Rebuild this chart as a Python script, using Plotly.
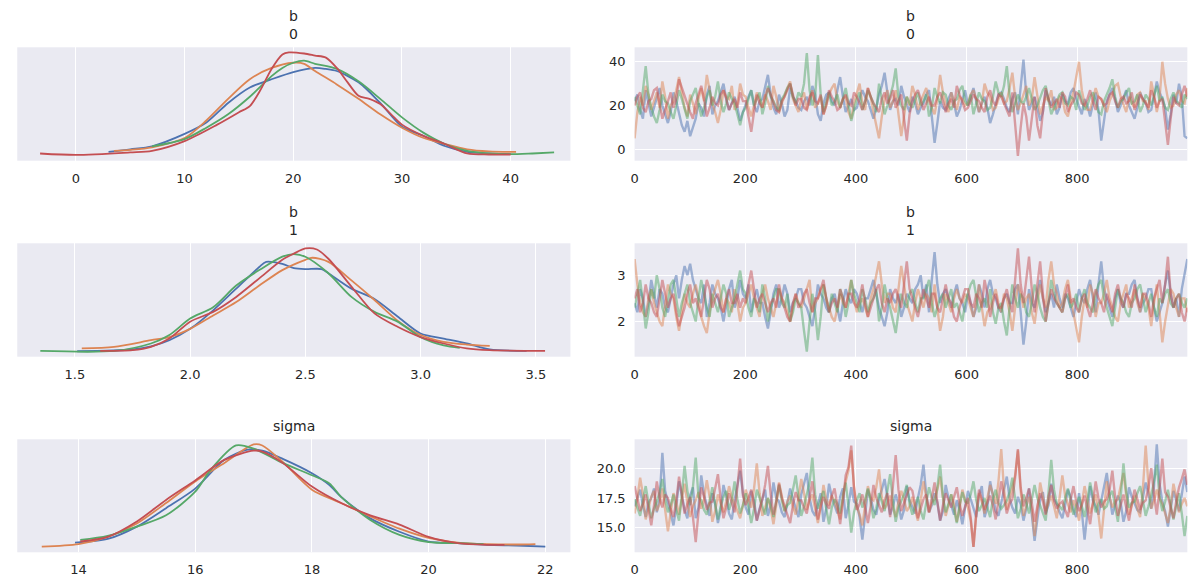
import numpy as np
import plotly.graph_objects as go
from plotly.subplots import make_subplots

# chain colours (seaborn deep)
colors = ["#4C72B0", "#DD8452", "#55A868", "#C44E52"]

# ---- KDE curves (relative density, peak ~ 1) ----
b0_kde_x_blue = [3, 5, 7, 10, 12, 14, 16, 18, 20, 22, 23, 24, 26, 28, 30, 32, 34, 36, 38, 40]
b0_kde_y_blue = [0.035, 0.06, 0.09, 0.21, 0.32, 0.51, 0.66, 0.74, 0.81, 0.85, 0.84, 0.82, 0.71, 0.51, 0.28, 0.19, 0.09, 0.035, 0.02, 0.013]
b0_kde_x_orange = [3.5, 5, 7, 10, 12, 14, 16, 18, 20, 21, 22, 24, 26, 28, 30, 32, 34, 36, 38, 40.5]
b0_kde_y_orange = [0.045, 0.055, 0.08, 0.17, 0.34, 0.55, 0.74, 0.85, 0.90, 0.89, 0.82, 0.69, 0.55, 0.40, 0.27, 0.17, 0.11, 0.06, 0.04, 0.035]
b0_kde_x_green = [7, 10, 12, 14, 16, 18, 19, 20, 21, 22, 24, 26, 28, 30, 32, 34, 36, 38, 40, 42, 44]
b0_kde_y_green = [0.09, 0.16, 0.27, 0.40, 0.57, 0.77, 0.85, 0.90, 0.92, 0.89, 0.84, 0.72, 0.55, 0.37, 0.22, 0.11, 0.045, 0.02, 0.013, 0.02, 0.03]
b0_kde_x_red = [-3.3, 0, 5, 7, 10, 13, 15, 16, 17, 18, 19, 19.6, 21, 22, 23, 24, 25, 26, 27, 28, 29, 30, 32, 34, 36, 38, 40]
b0_kde_y_red = [0.02, 0.006, 0.03, 0.045, 0.14, 0.30, 0.42, 0.48, 0.64, 0.84, 0.98, 1.0, 0.99, 0.97, 0.95, 0.85, 0.71, 0.58, 0.55, 0.50, 0.40, 0.30, 0.19, 0.11, 0.02, 0.01, 0.01]

b1_kde_x_blue = [1.51, 1.75, 1.83, 1.91, 2.0, 2.1, 2.2, 2.3, 2.33, 2.4, 2.45, 2.5, 2.57, 2.6, 2.7, 2.8, 2.9, 3.0, 3.1, 3.2, 3.3, 3.46]
b1_kde_y_blue = [0.003, 0.02, 0.05, 0.11, 0.22, 0.40, 0.61, 0.82, 0.87, 0.85, 0.81, 0.80, 0.80, 0.76, 0.61, 0.51, 0.34, 0.175, 0.126, 0.078, 0.02, 0.006]
b1_kde_x_orange = [1.53, 1.67, 1.83, 1.91, 2.0, 2.1, 2.2, 2.3, 2.4, 2.5, 2.53, 2.6, 2.7, 2.8, 2.9, 3.0, 3.1, 3.2, 3.3]
b1_kde_y_orange = [0.03, 0.045, 0.11, 0.14, 0.22, 0.35, 0.48, 0.64, 0.79, 0.89, 0.91, 0.87, 0.69, 0.50, 0.30, 0.16, 0.094, 0.068, 0.055]
b1_kde_x_green = [1.35, 1.67, 1.83, 1.91, 2.0, 2.1, 2.2, 2.3, 2.4, 2.45, 2.5, 2.6, 2.7, 2.8, 2.9, 3.0, 3.1, 3.17]
b1_kde_y_green = [0.006, 0.006, 0.078, 0.16, 0.32, 0.43, 0.64, 0.79, 0.92, 0.945, 0.92, 0.76, 0.53, 0.385, 0.29, 0.14, 0.06, 0.036]
b1_kde_x_red = [1.61, 1.75, 1.83, 1.91, 2.0, 2.1, 2.2, 2.3, 2.4, 2.45, 2.5, 2.55, 2.6, 2.7, 2.8, 2.9, 3.0, 3.1, 3.2, 3.3, 3.54]
b1_kde_y_red = [0.006, 0.013, 0.045, 0.126, 0.29, 0.385, 0.53, 0.71, 0.89, 0.95, 1.0, 0.99, 0.90, 0.63, 0.37, 0.24, 0.14, 0.078, 0.03, 0.013, 0.006]

sigma_kde_x_blue = [13.94, 14.5, 15, 15.5, 16, 16.5, 16.9, 17.15, 17.5, 18, 18.3, 18.5, 19, 19.5, 20, 20.5, 21, 21.5, 22]
sigma_kde_y_blue = [0.045, 0.08, 0.20, 0.38, 0.57, 0.85, 0.95, 0.94, 0.86, 0.72, 0.605, 0.49, 0.28, 0.15, 0.055, 0.039, 0.023, 0.016, 0.006]
sigma_kde_x_orange = [13.37, 14, 14.5, 15, 15.5, 16, 16.5, 17, 17.15, 17.5, 18, 18.5, 19, 19.5, 20, 20.5, 21, 21.5, 21.83]
sigma_kde_y_orange = [0.006, 0.03, 0.10, 0.23, 0.43, 0.64, 0.82, 1.0, 0.99, 0.83, 0.56, 0.43, 0.30, 0.18, 0.09, 0.045, 0.03, 0.026, 0.03]
sigma_kde_x_green = [14.03, 14.5, 15, 15.5, 16, 16.26, 16.7, 17, 17.5, 18, 18.3, 18.5, 19, 19.5, 20, 20.5, 20.94]
sigma_kde_y_green = [0.07, 0.11, 0.20, 0.31, 0.54, 0.75, 0.99, 0.96, 0.82, 0.70, 0.62, 0.49, 0.265, 0.12, 0.05, 0.039, 0.03]
sigma_kde_x_red = [14.03, 14.5, 15, 15.5, 16, 16.5, 17, 17.15, 17.5, 18, 18.5, 19, 19.5, 20, 20.5, 21, 21.3]
sigma_kde_y_red = [0.055, 0.10, 0.25, 0.46, 0.65, 0.85, 0.94, 0.93, 0.82, 0.59, 0.43, 0.31, 0.22, 0.10, 0.039, 0.023, 0.023]

# ---- trace values (every 5th draw) ----
b0_trace_blue = [22, 25, 18, 14, 27, 21, 15, 19, 24, 28, 20, 16, 12, 17, 26, 22, 17, 11, 8, 13,
                 6, 10, 14, 21, 19, 15, 25, 29, 16, 20, 22, 26, 30, 23, 18, 21, 24, 19, 13, 17,
                 21, 24, 27, 20, 17, 22, 23, 28, 34, 25, 19, 16, 25, 21, 15, 18, 28, 24, 22, 19,
                 18, 22, 24, 20, 29, 25, 16, 13, 21, 25, 26, 22, 20, 27, 33, 24, 17, 20, 23, 18,
                 19, 23, 27, 24, 22, 18, 14, 19, 25, 29, 35, 26, 18, 22, 23, 20, 29, 24, 20, 17,
                 24, 21, 16, 19, 21, 25, 27, 14, 3, 12, 22, 19, 18, 23, 26, 21, 15, 18, 23, 27,
                 20, 24, 28, 22, 17, 21, 24, 19, 12, 16, 21, 25, 26, 23, 19, 17, 23, 26, 16, 28,
                 41, 25, 18, 21, 24, 19, 13, 17, 27, 23, 20, 24, 16, 19, 25, 22, 21, 26, 28, 23,
                 19, 16, 23, 20, 15, 21, 26, 18, 4, 13, 22, 25, 28, 23, 17, 20, 24, 27, 20, 17,
                 14, 19, 26, 23, 21, 17, 18, 24, 31, 26, 23, 19, 9, 16, 25, 21, 30, 24, 6, 5]
b0_trace_orange = [5, 17, 24, 20, 29, 25, 18, 22, 26, 19, 31, 24, 14, 20, 22, 27, 33, 26, 19, 15,
                   25, 21, 16, 23, 28, 22, 34, 27, 21, 17, 12, 18, 27, 24, 23, 29, 18, 21, 30, 25,
                   24, 19, 15, 20, 26, 23, 19, 25, 22, 18, 29, 24, 17, 21, 25, 28, 31, 23, 20, 17,
                   23, 26, 18, 22, 27, 19, 21, 24, 16, 20, 25, 28, 30, 22, 19, 23, 24, 17, 14, 21,
                   26, 30, 21, 18, 28, 24, 17, 11, 5, 15, 23, 27, 19, 22, 27, 16, 6, 15, 24, 20,
                   29, 25, 18, 22, 25, 28, 22, 19, 16, 23, 34, 26, 20, 17, 26, 22, 18, 24, 23, 20,
                   21, 25, 27, 23, 17, 21, 30, 26, 24, 18, 19, 23, 26, 21, 22, 28, 35, 24, 18, 21,
                   25, 29, 20, 23, 33, 25, 16, 20, 24, 22, 27, 18, 19, 24, 23, 17, 15, 21, 26, 33,
                   40, 27, 21, 18, 18, 23, 28, 24, 23, 20, 17, 22, 25, 29, 30, 24, 20, 17, 24, 21,
                   19, 25, 26, 22, 22, 18, 31, 25, 17, 23, 40, 30, 23, 19, 20, 25, 27, 22, 21, 28]
b0_trace_green = [24, 20, 16, 27, 38, 25, 19, 15, 12, 18, 25, 22, 21, 17, 14, 20, 27, 23, 18, 14,
                  22, 25, 28, 21, 15, 19, 24, 27, 20, 24, 31, 22, 17, 21, 26, 23, 21, 16, 11, 17,
                  19, 23, 27, 20, 23, 26, 16, 21, 29, 24, 22, 19, 18, 23, 25, 28, 30, 24, 21, 26,
                  24, 30, 44, 27, 20, 24, 43, 25, 17, 22, 26, 20, 22, 25, 19, 23, 28, 21, 13, 18,
                  23, 26, 18, 22, 27, 24, 21, 17, 30, 23, 16, 20, 25, 29, 37, 24, 20, 18, 24, 21,
                  19, 23, 26, 20, 22, 25, 15, 19, 28, 24, 21, 26, 25, 20, 18, 22, 23, 27, 29, 22,
                  20, 25, 16, 21, 26, 23, 22, 18, 19, 24, 31, 26, 24, 29, 38, 25, 17, 21, 25, 22,
                  21, 24, 28, 23, 18, 20, 24, 27, 29, 22, 16, 19, 22, 25, 26, 21, 20, 24, 23, 18,
                  27, 22, 18, 20, 24, 26, 21, 17, 16, 22, 25, 28, 32, 24, 19, 22, 23, 26, 28, 21,
                  22, 25, 17, 20, 25, 23, 20, 24, 29, 22, 24, 19, 18, 23, 26, 22, 21, 19, 25, 23]
b0_trace_red = [20, 24, 26, 19, 17, 22, 23, 27, 28, 20, 14, 18, 22, 26, 19, 23, 32, 28, 25, 20,
                17, 14, 21, 25, 29, 23, 15, 19, 24, 21, 20, 25, 27, 23, 18, 21, 23, 19, 26, 22,
                22, 15, 8, 17, 25, 21, 19, 24, 28, 25, 21, 18, 17, 22, 24, 27, 30, 25, 20, 23,
                23, 19, 18, 24, 26, 22, 21, 25, 16, 20, 27, 24, 22, 18, 19, 23, 25, 21, 20, 26,
                24, 21, 18, 22, 28, 24, 21, 19, 17, 23, 26, 21, 23, 27, 19, 22, 25, 14, 4, 16,
                22, 25, 27, 23, 18, 21, 24, 20, 20, 24, 26, 22, 17, 21, 23, 19, 29, 25, 21, 18,
                19, 22, 25, 23, 22, 19, 17, 24, 27, 22, 20, 25, 24, 21, 18, 15, 26, 12, -3, 10,
                21, 15, 4, 14, 24, 11, 5, 17, 28, 23, 19, 21, 23, 19, 26, 24, 17, 20, 22, 26,
                25, 21, 20, 23, 27, 22, 18, 24, 23, 20, 21, 25, 26, 22, 19, 23, 24, 21, 22, 26,
                18, 21, 25, 23, 21, 19, 27, 24, 19, 22, 23, 12, 2, 14, 24, 21, 20, 25, 29, 24]

b1_trace_blue = [2.4, 2.2, 2.7, 2.5, 2.1, 2.4, 2.9, 2.6, 2.3, 2.7, 2.6, 2.3, 2.2, 2.5, 2.8, 3.0, 2.5, 2.9, 3.2, 3.0,
                 3.25, 2.9, 2.7, 2.5, 2.4, 2.8, 2.1, 2.4, 2.8, 2.6, 2.5, 2.3, 2.0, 2.4, 2.7, 2.9, 2.3, 2.5, 2.9, 2.6,
                 2.5, 2.8, 2.2, 2.5, 2.7, 2.4, 2.4, 2.1, 1.85, 2.2, 2.6, 2.8, 2.3, 2.5, 2.8, 2.6, 2.2, 2.4, 2.5, 2.7,
                 2.7, 2.4, 2.3, 2.1, 1.9, 2.3, 2.8, 2.6, 2.5, 2.3, 2.2, 2.5, 2.6, 2.3, 2.0, 2.4, 2.7, 2.5, 2.4, 2.7,
                 2.6, 2.4, 2.2, 2.5, 2.5, 2.7, 2.9, 2.6, 2.3, 2.1, 1.9, 2.2, 2.7, 2.5, 2.4, 2.6, 2.1, 2.3, 2.6, 2.5,
                 2.4, 2.7, 2.8, 3.0, 2.5, 2.8, 2.2, 2.9, 3.5, 2.8, 2.4, 2.6, 2.7, 2.5, 2.3, 2.6, 2.8, 2.5, 2.4, 2.2,
                 2.6, 2.4, 2.1, 2.3, 2.8, 2.6, 2.3, 2.7, 2.9, 2.6, 2.5, 2.3, 2.2, 2.5, 2.6, 2.4, 2.4, 2.7, 2.8, 2.2,
                 1.5, 2.0, 2.7, 2.4, 2.3, 2.6, 2.9, 2.5, 2.2, 2.4, 2.6, 2.3, 2.8, 2.5, 2.3, 2.6, 2.5, 2.3, 2.1, 2.4,
                 2.7, 2.5, 2.4, 2.7, 2.9, 2.5, 2.2, 2.8, 3.3, 2.7, 2.5, 2.3, 2.1, 2.5, 2.7, 2.4, 2.3, 2.6, 2.6, 2.8,
                 2.9, 2.5, 2.2, 2.4, 2.5, 2.7, 2.7, 2.3, 2.0, 2.2, 2.4, 2.8, 3.1, 2.6, 2.3, 2.5, 2.1, 2.7, 3.0, 3.35]
b1_trace_orange = [3.35, 2.8, 2.4, 2.2, 2.1, 2.5, 2.7, 2.4, 2.2, 2.0, 1.9, 2.3, 2.8, 2.6, 2.5, 2.1, 1.8, 2.2, 2.6, 2.4,
                   2.3, 2.6, 2.8, 2.5, 2.1, 1.9, 1.75, 2.2, 2.5, 2.7, 2.9, 2.6, 2.2, 2.5, 2.4, 2.2, 2.7, 2.4, 2.0, 2.3,
                   2.4, 2.6, 2.8, 2.5, 2.3, 2.1, 2.6, 2.8, 2.5, 2.3, 2.1, 2.4, 2.7, 2.5, 2.4, 2.2, 2.0, 2.3, 2.6, 2.4,
                   2.3, 2.5, 2.7, 2.9, 2.2, 2.4, 2.5, 2.7, 2.8, 2.5, 2.3, 2.1, 2.0, 2.3, 2.6, 2.4, 2.3, 2.6, 2.9, 2.5,
                   2.2, 2.4, 2.5, 2.3, 2.1, 2.5, 2.7, 3.0, 3.3, 2.8, 2.4, 2.6, 2.6, 2.3, 2.2, 2.7, 3.2, 2.8, 2.4, 2.2,
                   2.0, 2.4, 2.7, 2.5, 2.3, 2.6, 2.5, 2.2, 2.8, 2.3, 1.8, 2.1, 2.6, 2.4, 2.2, 2.5, 2.7, 2.5, 2.4, 2.6,
                   2.5, 2.3, 2.1, 2.4, 2.8, 2.3, 1.9, 2.2, 2.3, 2.5, 2.7, 2.4, 2.2, 2.6, 2.5, 2.2, 1.8, 2.3, 2.8, 2.6,
                   2.3, 2.5, 2.6, 2.2, 1.95, 2.4, 2.8, 2.5, 2.3, 2.9, 3.3, 2.8, 2.6, 2.3, 2.4, 2.7, 2.9, 2.5, 2.2, 1.9,
                   1.55, 2.1, 2.5, 2.3, 2.8, 2.6, 2.1, 2.4, 2.4, 2.6, 2.9, 2.5, 2.3, 2.1, 2.0, 2.4, 2.6, 2.8, 2.3, 2.5,
                   2.7, 2.4, 2.2, 2.6, 2.5, 2.3, 1.9, 2.4, 2.8, 2.2, 1.55, 2.0, 2.4, 2.7, 2.6, 2.3, 2.1, 2.5, 2.5, 2.2]
b1_trace_green = [2.3, 2.6, 2.9, 2.4, 1.85, 2.2, 2.7, 2.5, 3.0, 2.7, 2.3, 2.1, 2.5, 2.8, 2.9, 2.5, 2.1, 2.4, 2.6, 2.8,
                  2.4, 2.2, 2.0, 2.5, 2.9, 2.6, 2.3, 2.1, 2.6, 2.4, 2.2, 2.5, 2.8, 2.6, 2.1, 2.3, 2.5, 2.8, 3.1, 2.7,
                  2.6, 2.3, 2.1, 2.5, 2.4, 2.2, 2.8, 2.5, 2.0, 2.3, 2.5, 2.7, 2.7, 2.4, 2.3, 2.6, 2.0, 2.2, 2.5, 2.4,
                  2.3, 1.8, 1.35, 2.0, 2.6, 2.2, 1.6, 2.1, 2.8, 2.5, 2.2, 2.6, 2.4, 2.2, 2.7, 2.5, 2.1, 2.4, 2.9, 2.6,
                  2.4, 2.2, 2.7, 2.5, 2.2, 2.4, 2.5, 2.7, 2.0, 2.3, 2.8, 2.5, 2.3, 2.0, 1.75, 2.2, 2.6, 2.4, 2.3, 2.6,
                  2.7, 2.4, 2.2, 2.5, 2.5, 2.7, 2.9, 2.4, 2.1, 2.3, 2.5, 2.6, 2.3, 2.5, 2.7, 2.3, 2.4, 2.2, 2.0, 2.4,
                  2.6, 2.8, 2.9, 2.5, 2.2, 2.4, 2.5, 2.3, 2.7, 2.2, 1.95, 2.3, 2.4, 2.0, 1.7, 2.3, 2.8, 2.5, 2.3, 2.6,
                  2.5, 2.2, 2.1, 2.4, 2.8, 2.6, 2.3, 2.1, 2.0, 2.4, 2.9, 2.6, 2.4, 2.3, 2.2, 2.5, 2.6, 2.3, 2.4, 2.6,
                  2.2, 2.5, 2.7, 2.4, 2.3, 2.2, 2.6, 2.8, 2.9, 2.5, 2.3, 2.1, 1.9, 2.3, 2.7, 2.5, 2.4, 2.2, 2.1, 2.4,
                  2.5, 2.7, 2.8, 2.5, 2.2, 2.4, 2.6, 2.3, 2.1, 2.5, 2.4, 2.6, 2.7, 2.4, 2.3, 2.5, 2.6, 2.4, 2.3, 2.5]
b1_trace_red = [2.5, 2.7, 2.2, 2.4, 2.8, 2.5, 2.4, 2.2, 2.1, 2.5, 2.9, 2.6, 2.3, 2.5, 2.6, 2.2, 1.9, 2.1, 2.3, 2.6,
                2.8, 2.4, 2.5, 2.3, 2.1, 2.5, 2.9, 2.7, 2.3, 2.5, 2.6, 2.3, 2.2, 2.5, 2.7, 2.4, 2.4, 2.6, 2.3, 2.5,
                2.4, 2.8, 3.1, 2.7, 2.3, 2.5, 2.6, 2.4, 2.2, 2.4, 2.5, 2.3, 2.8, 2.5, 2.3, 2.1, 2.0, 2.4, 2.6, 2.3,
                2.4, 2.6, 2.7, 2.4, 2.2, 2.5, 2.5, 2.7, 2.9, 2.5, 2.2, 2.4, 2.5, 2.3, 2.7, 2.5, 2.3, 2.6, 2.6, 2.4,
                2.3, 2.5, 2.8, 2.4, 2.1, 2.3, 2.5, 2.7, 2.8, 2.4, 2.2, 2.5, 2.4, 2.6, 2.7, 2.5, 2.3, 2.8, 3.3, 2.7,
                2.5, 2.3, 2.1, 2.4, 2.7, 2.5, 2.3, 2.6, 2.6, 2.3, 2.2, 2.5, 2.8, 2.5, 2.4, 2.1, 2.0, 2.3, 2.5, 2.7,
                2.7, 2.4, 2.3, 2.6, 2.5, 2.3, 2.9, 2.6, 2.1, 2.4, 2.6, 2.3, 2.3, 2.5, 2.7, 2.4, 2.2, 2.9, 3.58, 2.8,
                2.4, 2.9, 3.4, 2.7, 2.2, 2.8, 3.3, 2.6, 2.0, 2.4, 2.7, 2.5, 2.4, 2.3, 2.2, 2.5, 2.8, 2.4, 2.5, 2.3,
                2.2, 2.5, 2.6, 2.3, 2.1, 2.4, 2.7, 2.5, 2.4, 2.2, 2.6, 2.4, 2.2, 2.6, 2.8, 2.5, 2.3, 2.6, 2.5, 2.3,
                2.8, 2.5, 2.3, 2.6, 2.6, 2.4, 2.1, 2.5, 2.7, 2.9, 2.4, 2.8, 3.4, 2.6, 2.3, 2.5, 2.6, 2.2, 2.0, 2.3]

sigma_trace_blue = [16.8, 17.6, 18.2, 16.9, 15.9, 17.1, 17.5, 18.3, 16.3, 17.4, 21.3, 18.1, 17.0, 16.2, 15.2, 16.8, 18.9, 17.7, 16.5, 15.8,
                    17.7, 18.4, 15.8, 16.7, 19.4, 17.8, 16.9, 16.0, 17.9, 17.0, 15.4, 16.5, 18.6, 17.6, 16.2, 15.7, 17.3, 18.6, 19.8, 17.9,
                    16.7, 16.1, 18.1, 17.3, 15.6, 16.6, 17.5, 18.2, 16.0, 16.9, 18.8, 17.5, 17.2, 16.3, 15.9, 17.0, 18.3, 17.4, 16.6, 15.9,
                    17.8, 18.7, 19.6, 17.5, 16.4, 16.0, 17.1, 17.9, 15.5, 16.6, 18.7, 17.6, 16.9, 16.2, 17.6, 18.3, 15.8, 16.9, 18.4, 17.2,
                    17.0, 15.9, 14.0, 16.4, 18.2, 17.5, 16.5, 16.1, 17.4, 18.2, 19.1, 17.6, 16.1, 16.8, 17.8, 17.0, 15.7, 16.5, 18.5, 17.3,
                    16.8, 16.2, 17.5, 18.6, 20.3, 17.8, 16.3, 16.9, 17.9, 17.1, 15.6, 16.4, 18.6, 17.5, 16.9, 16.1, 17.3, 16.5, 15.3, 16.8,
                    18.1, 17.4, 16.6, 15.9, 17.7, 18.5, 15.9, 16.7, 18.9, 17.6, 16.4, 16.0, 17.2, 18.1, 19.3, 17.5, 16.7, 16.2, 17.6, 17.0,
                    15.6, 16.6, 18.3, 16.1, 13.9, 15.7, 17.4, 18.0, 16.2, 16.9, 18.7, 17.4, 17.0, 16.3, 15.8, 16.9, 18.2, 17.6, 16.5, 15.9,
                    17.9, 16.4, 14.0, 16.2, 18.5, 17.3, 16.8, 16.1, 17.3, 18.4, 19.6, 17.7, 16.1, 16.9, 17.7, 17.1, 15.5, 16.4, 18.4, 17.6,
                    17.0, 16.5, 16.3, 17.4, 18.8, 17.9, 16.6, 18.5, 22.0, 18.7, 17.2, 16.4, 15.1, 16.6, 18.1, 17.3, 16.4, 17.8, 19.3, 18.0]
sigma_trace_orange = [16.2, 17.5, 19.2, 17.8, 15.7, 16.6, 17.6, 18.1, 16.4, 17.0, 18.3, 16.5, 14.7, 16.3, 17.9, 17.2, 16.1, 17.4, 18.7, 17.1,
                      15.9, 16.8, 17.3, 18.0, 16.6, 17.4, 19.0, 17.6, 15.5, 16.4, 17.8, 17.0, 16.3, 17.2, 18.5, 17.6, 17.0, 16.4, 15.8, 16.9,
                      18.2, 17.4, 16.7, 18.3, 20.4, 17.9, 16.0, 16.7, 17.5, 16.6, 15.3, 16.9, 18.8, 17.7, 16.4, 17.2, 17.7, 16.8, 16.1, 17.5,
                      19.1, 17.9, 16.5, 17.3, 17.8, 16.6, 15.4, 16.8, 18.6, 17.4, 16.9, 17.7, 17.2, 16.5, 15.7, 17.6, 18.9, 19.8, 21.5, 18.4,
                      16.8, 16.1, 15.2, 16.9, 18.5, 17.5, 17.3, 18.4, 19.9, 17.6, 16.6, 17.0, 17.7, 16.7, 15.9, 17.2, 18.1, 17.4, 16.4, 16.8,
                      17.6, 16.5, 15.6, 17.3, 18.9, 17.6, 16.3, 17.1, 17.4, 18.2, 19.3, 17.5, 16.0, 16.9, 17.8, 17.0, 15.5, 16.6, 18.2, 17.3,
                      16.7, 15.6, 13.4, 16.1, 17.9, 17.2, 16.2, 17.5, 18.6, 17.8, 17.0, 18.9, 21.6, 18.2, 16.5, 17.4, 18.3, 19.4, 21.5, 18.1,
                      16.0, 16.8, 17.6, 16.5, 14.3, 16.4, 18.8, 17.6, 16.4, 17.1, 17.7, 16.8, 15.8, 17.5, 19.4, 17.7, 16.9, 16.3, 17.3, 16.6,
                      15.6, 17.0, 18.5, 17.4, 16.2, 17.0, 17.8, 16.1, 14.1, 16.5, 18.9, 17.6, 16.7, 17.2, 17.4, 18.5, 19.6, 17.7, 16.1, 16.9,
                      17.7, 16.6, 15.9, 18.3, 21.9, 18.6, 16.6, 17.3, 18.2, 17.5, 17.0, 16.2, 15.4, 16.8, 18.7, 17.6, 16.3, 17.0, 17.5, 16.8]
sigma_trace_green = [17.4, 16.7, 16.0, 17.3, 18.5, 17.1, 15.8, 16.6, 17.2, 18.0, 19.1, 17.4, 16.3, 16.9, 17.8, 16.5, 15.6, 17.7, 20.2, 18.1,
                     16.9, 18.4, 20.9, 17.6, 17.3, 16.5, 16.1, 17.2, 18.4, 17.0, 15.7, 16.8, 17.6, 18.1, 16.5, 17.3, 18.9, 17.4, 16.2, 16.9,
                     17.9, 16.7, 15.4, 16.6, 18.2, 17.5, 16.8, 16.1, 17.5, 16.9, 15.9, 17.2, 18.6, 17.3, 16.4, 16.9, 17.1, 18.2, 19.4, 17.6,
                     16.0, 16.8, 17.7, 18.8, 20.9, 17.8, 16.6, 17.3, 18.1, 16.6, 15.3, 16.7, 17.4, 17.0, 16.2, 17.6, 18.8, 16.8, 14.6, 16.3,
                     17.3, 17.9, 16.7, 17.4, 18.3, 17.1, 15.8, 16.6, 17.9, 17.2, 16.4, 18.1, 19.5, 17.3, 15.5, 16.7, 17.2, 17.8, 18.6, 17.0,
                     16.1, 16.8, 17.6, 16.4, 15.7, 17.1, 18.4, 17.5, 16.9, 18.4, 20.3, 17.6, 16.3, 17.0, 17.8, 16.5, 15.4, 16.9, 18.0, 17.2,
                     17.1, 17.8, 18.9, 17.3, 16.4, 16.9, 17.5, 16.7, 15.9, 17.4, 18.2, 17.1, 16.6, 16.9, 17.3, 18.0, 19.2, 17.4, 15.8, 16.6,
                     17.8, 17.1, 16.2, 17.4, 18.6, 17.5, 16.9, 16.3, 15.6, 17.9, 20.7, 18.2, 17.0, 16.8, 16.5, 17.5, 18.3, 17.2, 16.1, 16.9,
                     17.6, 16.8, 15.9, 17.3, 18.8, 17.6, 16.3, 17.0, 17.4, 16.6, 16.8, 17.7, 18.1, 16.8, 15.5, 17.6, 20.4, 18.0, 16.7, 17.1,
                     17.2, 17.9, 18.5, 17.3, 16.0, 16.8, 17.7, 18.9, 20.3, 17.6, 16.4, 17.2, 18.2, 16.9, 15.7, 16.8, 17.9, 16.2, 14.3, 16.0]
sigma_trace_red = [18.5, 17.4, 16.4, 17.0, 17.8, 16.6, 15.2, 16.9, 18.9, 17.5, 16.7, 17.8, 17.5, 16.6, 15.9, 17.2, 19.3, 17.8, 16.2, 17.0,
                   17.6, 15.9, 13.8, 16.3, 18.4, 17.6, 16.5, 17.1, 17.2, 18.3, 19.5, 17.4, 15.8, 16.7, 17.9, 17.1, 16.3, 18.4, 20.8, 17.7,
                   16.9, 17.5, 18.2, 16.9, 15.6, 16.5, 17.4, 18.6, 20.2, 17.8, 16.1, 17.2, 18.7, 17.5, 16.8, 16.2, 15.4, 16.9, 18.0, 17.3,
                   17.3, 16.7, 16.2, 17.6, 18.9, 17.1, 15.7, 16.8, 17.6, 17.0, 16.6, 17.7, 18.3, 16.9, 15.3, 17.2, 19.4, 20.1, 21.9, 18.3,
                   16.5, 17.0, 17.8, 16.7, 15.4, 16.8, 18.6, 17.5, 16.9, 16.3, 17.3, 17.9, 15.9, 18.6, 21.1, 18.2, 16.4, 17.1, 17.7, 18.4,
                   18.1, 17.0, 15.8, 16.6, 17.4, 17.8, 16.3, 17.5, 18.8, 17.2, 15.6, 16.9, 17.9, 17.3, 16.7, 17.6, 18.4, 17.0, 16.0, 16.8,
                   17.5, 15.9, 13.4, 16.2, 18.2, 17.4, 16.5, 17.1, 17.7, 16.9, 15.7, 17.3, 18.9, 17.6, 16.2, 17.0, 17.4, 19.2, 21.6, 18.4,
                   16.8, 17.5, 18.3, 17.1, 15.5, 16.8, 17.9, 17.2, 16.1, 17.6, 18.6, 17.3, 16.6, 17.0, 17.2, 16.5, 15.9, 17.4, 18.5, 17.2,
                   16.4, 16.9, 17.7, 16.6, 15.3, 17.1, 18.9, 17.5, 16.7, 17.2, 17.4, 18.2, 19.8, 17.6, 16.0, 16.9, 17.8, 16.7, 15.6, 17.0,
                   18.2, 17.4, 16.5, 17.1, 17.3, 18.4, 20.0, 17.8, 16.1, 18.3, 20.8, 18.0, 17.6, 16.7, 15.8, 17.2, 18.4, 19.1, 19.9, 18.6]

params = [
    dict(title="b<br>0",
         kde=[(b0_kde_x_blue, b0_kde_y_blue), (b0_kde_x_orange, b0_kde_y_orange),
              (b0_kde_x_green, b0_kde_y_green), (b0_kde_x_red, b0_kde_y_red)],
         trace=[b0_trace_blue, b0_trace_orange, b0_trace_green, b0_trace_red],
         kde_range=[-5.4, 45.5], kde_ticks=[0, 10, 20, 30, 40], kde_fmt="d",
         tr_range=[-5.2, 46.6], tr_ticks=[0, 20, 40], tr_fmt="d"),
    dict(title="b<br>1",
         kde=[(b1_kde_x_blue, b1_kde_y_blue), (b1_kde_x_orange, b1_kde_y_orange),
              (b1_kde_x_green, b1_kde_y_green), (b1_kde_x_red, b1_kde_y_red)],
         trace=[b1_trace_blue, b1_trace_orange, b1_trace_green, b1_trace_red],
         kde_range=[1.25, 3.65], kde_ticks=[1.5, 2.0, 2.5, 3.0, 3.5], kde_fmt=".1f",
         tr_range=[1.24, 3.69], tr_ticks=[2, 3], tr_fmt="d"),
    dict(title="sigma",
         kde=[(sigma_kde_x_blue, sigma_kde_y_blue), (sigma_kde_x_orange, sigma_kde_y_orange),
              (sigma_kde_x_green, sigma_kde_y_green), (sigma_kde_x_red, sigma_kde_y_red)],
         trace=[sigma_trace_blue, sigma_trace_orange, sigma_trace_green, sigma_trace_red],
         kde_range=[12.95, 22.43], kde_ticks=[14, 16, 18, 20, 22], kde_fmt="d",
         tr_range=[12.94, 22.43], tr_ticks=[15.0, 17.5, 20.0], tr_fmt=".1f"),
]

fig = make_subplots(rows=3, cols=2)

W, H = 1200, 587
left_px = (13.3, 568.3)
right_px = (632.7, 1187.3)
rows_px = [(47.3, 160.7), (243.3, 356.7), (439.3, 552.3)]
font_col = "#262626"
bg = "#EAEAF2"

for r, p in enumerate(params):
    # density panel
    for c, (kx, ky) in enumerate(p["kde"]):
        fig.add_trace(go.Scatter(x=kx, y=ky, mode="lines", line=dict(color=colors[c], width=1.8, shape="spline", smoothing=0.8),
                                 showlegend=False, hoverinfo="skip"), row=r + 1, col=1)
    # trace panel, thinned draws spread over 0..999
    for c, vals in enumerate(p["trace"]):
        draws = np.linspace(0, 999, len(vals))
        fig.add_trace(go.Scatter(x=draws, y=vals, mode="lines", line=dict(color=colors[c], width=2.4),
                                 opacity=0.5, showlegend=False, hoverinfo="skip"), row=r + 1, col=2)

    top, bot = rows_px[r]
    ydom = [1 - bot / H, 1 - top / H]
    n_left = 2 * r + 1
    n_right = 2 * r + 2
    ax = lambda n, k: k + ("" if n == 1 else str(n))

    fig.layout[ax(n_left, "xaxis")].update(domain=[left_px[0] / W, left_px[1] / W], range=p["kde_range"],
                                           tickvals=p["kde_ticks"], tickformat=p["kde_fmt"])
    fig.layout[ax(n_left, "yaxis")].update(domain=ydom, range=[-0.05, 1.05], showticklabels=False, showgrid=False)
    fig.layout[ax(n_right, "xaxis")].update(domain=[right_px[0] / W, right_px[1] / W], range=[0, 999],
                                            tickvals=[0, 200, 400, 600, 800], tickformat="d")
    fig.layout[ax(n_right, "yaxis")].update(domain=ydom, range=p["tr_range"], tickvals=p["tr_ticks"],
                                            tickformat=p["tr_fmt"], showgrid=True)

    for xp in [left_px, right_px]:
        fig.add_annotation(text=p["title"], xref="paper", yref="paper", x=(xp[0] + xp[1]) / 2 / W,
                           y=1 - top / H, yanchor="bottom", xanchor="center", yshift=3, showarrow=False,
                           font=dict(size=14, color=font_col, family="DejaVu Sans"))

fig.update_xaxes(showgrid=True, gridcolor="white", gridwidth=1.3, zeroline=False, showline=False,
                 ticks="", ticklabelstandoff=8, tickfont=dict(size=13, color=font_col))
fig.update_yaxes(gridcolor="white", gridwidth=1.3, zeroline=False, showline=False,
                 ticks="", ticklabelstandoff=8, tickfont=dict(size=13, color=font_col))

fig.update_layout(width=W, height=H, margin=dict(l=0, r=0, t=0, b=0),
                  plot_bgcolor=bg, paper_bgcolor="white",
                  font=dict(family="DejaVu Sans", color=font_col))

# drop the default page margin so the figure sits at the window origin
fig.write_html("out.html", post_script="document.body.style.margin='0';",
               config={"displayModeBar": False})
